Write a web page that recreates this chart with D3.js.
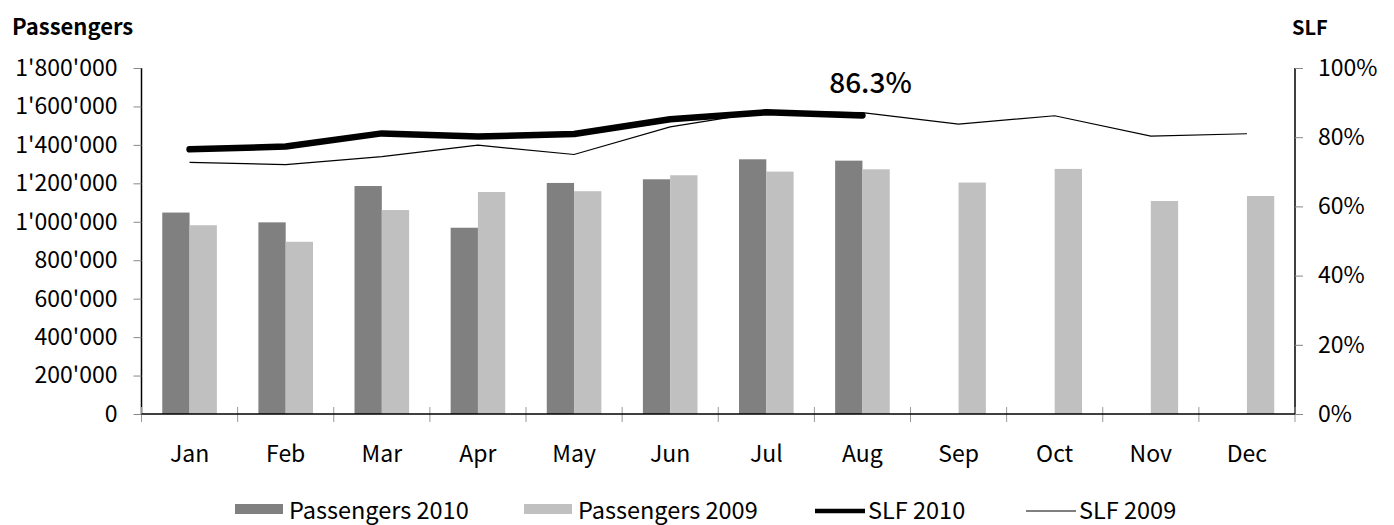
<!DOCTYPE html>
<html>
<head>
<meta charset="utf-8">
<script src="https://cdn.jsdelivr.net/npm/d3@7"></script>
<style>
  html, body { margin: 0; padding: 0; background: #fff; }
  svg { display: block; font-family: "Noto Sans CJK JP", "Liberation Sans", Arial, sans-serif; }
</style>
</head>
<body>
<svg id="chart" width="1394" height="525"></svg>
<script>
const months = ["Jan","Feb","Mar","Apr","May","Jun","Jul","Aug","Sep","Oct","Nov","Dec"];
const passengers2010 = [1048000, 997000, 1186000, 969000, 1202000, 1221000, 1325000, 1318000, null, null, null, null];
const passengers2009 = [982000, 896000, 1061000, 1155000, 1159000, 1242000, 1261000, 1273000, 1204000, 1275000, 1108000, 1134000];
const slf2010 = [0.765, 0.773, 0.811, 0.802, 0.809, 0.852, 0.872, 0.863, null, null, null, null];
const slf2009 = [0.727, 0.721, 0.744, 0.777, 0.750, 0.830, 0.874, 0.871, 0.838, 0.862, 0.803, 0.810];
const leftTicks = [0, 200000, 400000, 600000, 800000, 1000000, 1200000, 1400000, 1600000, 1800000];
const rightTicks = [0, 0.2, 0.4, 0.6, 0.8, 1.0];
const seriesNames = ["Passengers 2010", "Passengers 2009", "SLF 2010", "SLF 2009"];

(function () {
const svg = d3.select("#chart");
const pl = 141.5, pr = 1295, pt = 68, pb = 414;
const FONT = "Noto Sans CJK JP, Liberation Sans, Arial, sans-serif";

const x = d3.scaleBand().domain(months).range([pl, pr]).paddingInner(0).paddingOuter(0);
const yL = d3.scaleLinear().domain([0, 1800000]).range([pb, pt]);
const yR = d3.scaleLinear().domain([0, 1]).range([pb, pt]);
const barW = x.bandwidth() * 0.284;

const fmt = v => d3.format(",")(v).replace(/,/g, "'");

// Bars
const g = svg.append("g");
months.forEach((m, i) => {
  const cx = x(m) + x.bandwidth() / 2;
  if (passengers2010[i] != null) {
    g.append("rect").attr("x", cx - barW).attr("width", barW)
      .attr("y", yL(passengers2010[i])).attr("height", pb - yL(passengers2010[i]))
      .attr("fill", "#808080");
  }
  if (passengers2009[i] != null) {
    g.append("rect").attr("x", cx).attr("width", barW)
      .attr("y", yL(passengers2009[i])).attr("height", pb - yL(passengers2009[i]))
      .attr("fill", "#c0c0c0");
  }
});

// Left axis
const axL = svg.append("g").attr("transform", `translate(${pl},0)`)
  .call(d3.axisLeft(yL).tickValues(leftTicks).tickFormat(fmt).tickSize(8).tickPadding(16));
axL.select(".domain").attr("stroke", "#000").attr("stroke-width", 1.5).attr("d", `M0,${pt}V${pb}`);
axL.selectAll(".tick line").attr("stroke", "#888");
axL.selectAll(".tick text").attr("font-size", 23).attr("fill", "#000").attr("font-family", FONT);

// Right axis
const axR = svg.append("g").attr("transform", `translate(${pr},0)`)
  .call(d3.axisRight(yR).tickValues(rightTicks).tickFormat(d3.format(".0%")).tickSize(8).tickPadding(15));
axR.select(".domain").attr("stroke", "#000").attr("stroke-width", 1.5).attr("d", `M0,${pt}V${pb}`);
axR.selectAll(".tick line").attr("stroke", "#888");
axR.selectAll(".tick text").attr("font-size", 23).attr("fill", "#000").attr("font-family", FONT);

// Bottom axis (category separators)
const bounds = months.map(m => x(m)).concat([pr]);
svg.append("g").selectAll("line").data(bounds).join("line")
  .attr("x1", d => d).attr("x2", d => d).attr("y1", pb - 7).attr("y2", pb + 8)
  .attr("stroke", "#999").attr("stroke-width", 1);
svg.append("line").attr("x1", pl).attr("x2", pr).attr("y1", pb).attr("y2", pb)
  .attr("stroke", "#000").attr("stroke-width", 1.5);
svg.append("g").selectAll("text").data(months).join("text")
  .attr("x", d => x(d) + x.bandwidth() / 2).attr("y", 462)
  .attr("text-anchor", "middle").attr("font-size", 23).text(d => d);

// Lines
const lineGen = d3.line()
  .defined(d => d.v != null)
  .x(d => x(d.m) + x.bandwidth() / 2)
  .y(d => yR(d.v));
svg.append("path").datum(months.map((m, i) => ({ m, v: slf2009[i] })))
  .attr("d", lineGen).attr("fill", "none").attr("stroke", "#000").attr("stroke-width", 1.2);
svg.append("path").datum(months.map((m, i) => ({ m, v: slf2010[i] })))
  .attr("d", lineGen).attr("fill", "none").attr("stroke", "#000").attr("stroke-width", 6.5)
  .attr("stroke-linecap", "round").attr("stroke-linejoin", "round");

// Label
const lastIdx = 7;
svg.append("text").attr("x", x(months[lastIdx]) + x.bandwidth() / 2 + 8).attr("y", 93)
  .attr("text-anchor", "middle").attr("font-size", 28).attr("font-weight", 500)
  .text(d3.format(".1%")(slf2010[lastIdx]));

// Axis titles
svg.append("text").attr("x", 12).attr("y", 35).attr("font-size", 22).attr("font-weight", "bold").text("Passengers");
svg.append("text").attr("x", 1292).attr("y", 35).attr("font-size", 20).attr("font-weight", "bold").text("SLF");

// Legend
const legend = svg.append("g");
const legItems = [
  { name: seriesNames[0], type: "rect", color: "#808080", x: 235 },
  { name: seriesNames[1], type: "rect", color: "#c0c0c0", x: 524 },
  { name: seriesNames[2], type: "line", w: 4.5, x: 815 },
  { name: seriesNames[3], type: "line", w: 1, x: 1026 }
];
legItems.forEach(it => {
  if (it.type === "rect") {
    legend.append("rect").attr("x", it.x).attr("y", 504).attr("width", 48).attr("height", 10).attr("fill", it.color);
    legend.append("text").attr("x", it.x + 54).attr("y", 519).attr("font-size", 23.5).text(it.name);
  } else {
    legend.append("line").attr("x1", it.x).attr("x2", it.x + 50).attr("y1", 511).attr("y2", 511)
      .attr("stroke", "#000").attr("stroke-width", it.w);
    legend.append("text").attr("x", it.x + 53).attr("y", 519).attr("font-size", 23.5).text(it.name);
  }
});
})();
</script>
</body>
</html>
